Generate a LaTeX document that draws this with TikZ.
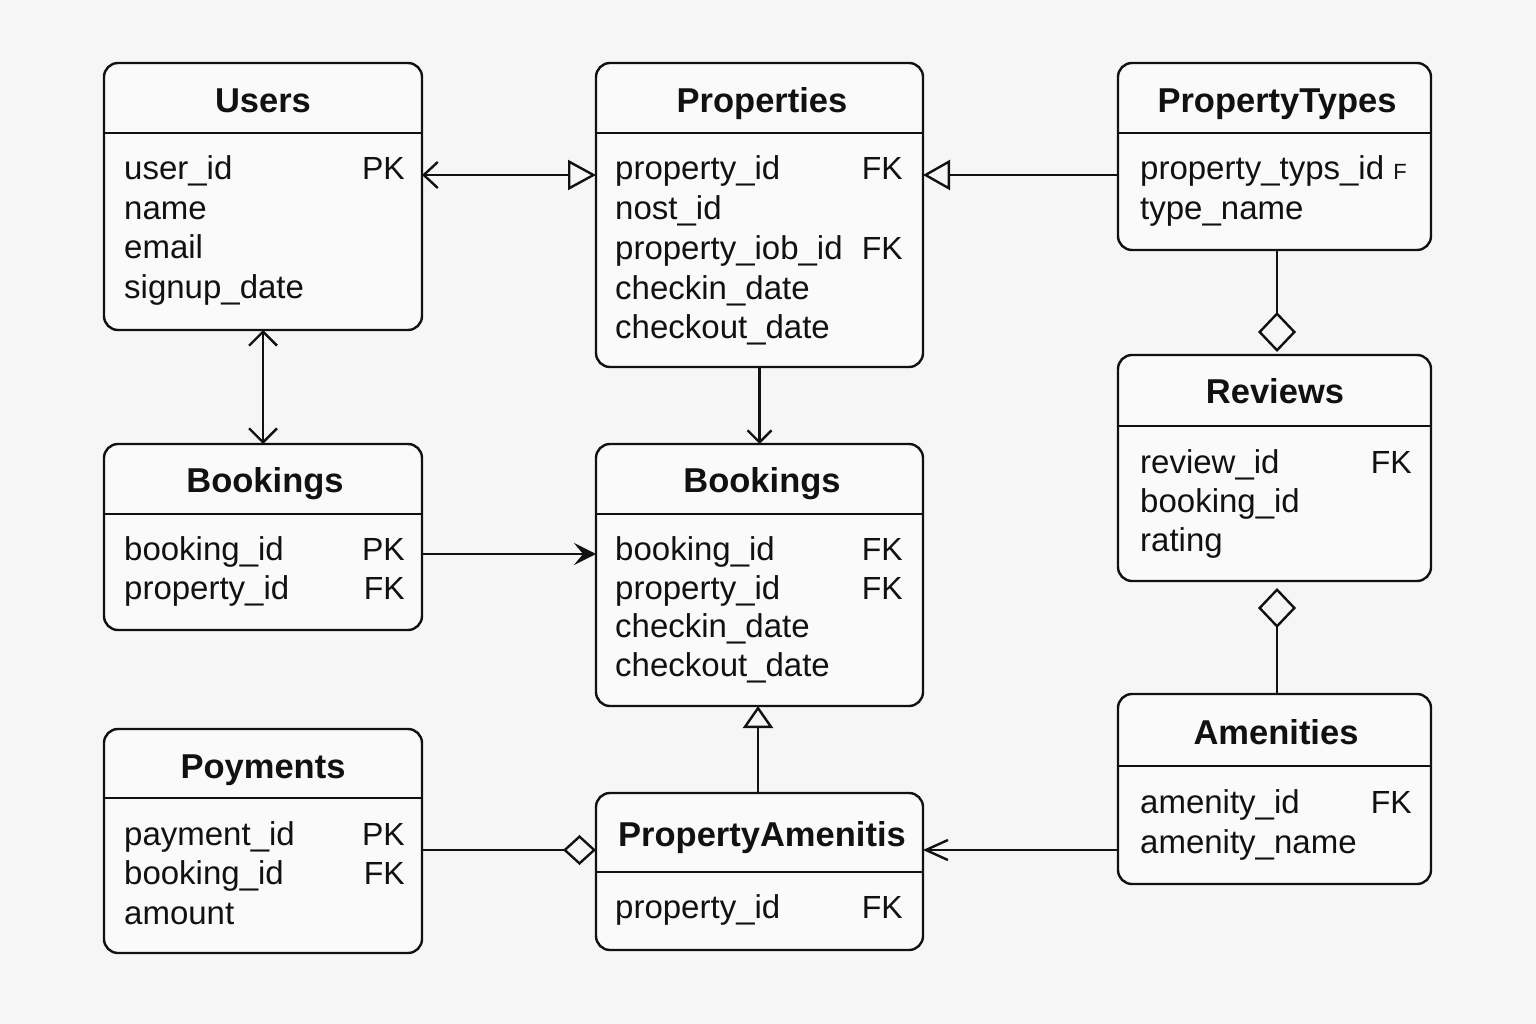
\documentclass[tikz,border=0pt]{standalone}
\usepackage{fontspec}
\setmainfont{Liberation Sans}
\usetikzlibrary{arrows.meta}
\definecolor{bg}{HTML}{F6F6F6}
\definecolor{boxbg}{HTML}{FAFAFA}
\definecolor{ink}{HTML}{111111}
\tikzset{
 box/.style={draw=ink, line width=2.4pt, rounded corners=14pt, fill=boxbg, anchor=north west, inner sep=0pt, outer sep=0pt},
 hdr/.style={draw=ink, line width=2.4pt},
 ttl/.style={font=\fontsize{34.5}{34.5}\selectfont\bfseries, text=ink, inner sep=0pt, anchor=base},
 fld/.style={font=\fontsize{33}{33}\selectfont, text=ink, anchor=base west, inner sep=0pt},
 key/.style={font=\fontsize{32}{32}\selectfont, text=ink, anchor=base east, inner sep=0pt},
 conn/.style={draw=ink, line width=2.4pt},
}
\begin{document}
\begin{tikzpicture}[x=1pt,y=-1pt]
\fill[bg] (0,0) rectangle (1536,1024);
\useasboundingbox (0,0) rectangle (1536,1024);

% boxes
\node[box, minimum width=318pt, minimum height=267pt] (users) at (104,63) {};
\node[box, minimum width=327pt, minimum height=304pt] (props) at (596,63) {};
\node[box, minimum width=313pt, minimum height=187pt] (ptypes) at (1118,63) {};
\node[box, minimum width=313pt, minimum height=226pt] (reviews) at (1118,355) {};
\node[box, minimum width=318pt, minimum height=186pt] (bl) at (104,444) {};
\node[box, minimum width=327pt, minimum height=262pt] (bc) at (596,444) {};
\node[box, minimum width=313pt, minimum height=190pt] (amen) at (1118,694) {};
\node[box, minimum width=318pt, minimum height=224pt] (pay) at (104,729) {};
\node[box, minimum width=327pt, minimum height=157pt] (pa) at (596,793) {};

% header lines
\draw[hdr] (users.west |- 0,133) -- (users.east |- 0,133);
\draw[hdr] (props.west |- 0,133) -- (props.east |- 0,133);
\draw[hdr] (ptypes.west |- 0,133) -- (ptypes.east |- 0,133);
\draw[hdr] (reviews.west |- 0,426) -- (reviews.east |- 0,426);
\draw[hdr] (bl.west |- 0,514) -- (bl.east |- 0,514);
\draw[hdr] (bc.west |- 0,514) -- (bc.east |- 0,514);
\draw[hdr] (amen.west |- 0,766) -- (amen.east |- 0,766);
\draw[hdr] (pay.west |- 0,798) -- (pay.east |- 0,798);
\draw[hdr] (pa.west |- 0,872) -- (pa.east |- 0,872);

% titles
\node[ttl] (t-users) at (263,113) {Users};
\node[ttl] (t-props) at (762,113) {Properties};
\node[ttl] (t-ptypes) at (1277,113) {PropertyTypes};
\node[ttl] (t-reviews) at (1275,403) {Reviews};
\node[ttl] (t-bl) at (265,492) {Bookings};
\node[ttl] (t-bc) at (762,492) {Bookings};
\node[ttl] (t-amen) at (1276,744) {Amenities};
\node[ttl] (t-pay) at (263,778) {Poyments};
\node[ttl] (t-pa) at (762,846) {PropertyAmenitis};

% Users
\node[fld] (u1) at (124,180) {user\_id};
\node[fld] (u2) at (124,219.5) {name};
\node[fld] (u3) at (124,259) {email};
\node[fld] (u4) at (124,298.5) {signup\_date};
\node[key] (uk1) at (405,180) {PK};

% Properties
\node[fld] (p1) at (615,180) {property\_id};
\node[fld] (p2) at (615,220) {nost\_id};
\node[fld] (p3) at (615,259.5) {property\_iob\_id};
\node[fld] (p4) at (615,299) {checkin\_date};
\node[fld] (p5) at (615,338) {checkout\_date};
\node[key] (pk1) at (903,180) {FK};
\node[key] (pk3) at (903,259.5) {FK};

% PropertyTypes
\node[fld] (pt1) at (1140,180) {property\_typs\_id};
\node[fld] (pt2) at (1140,220) {type\_name};
\node[key, font=\fontsize{22}{22}\selectfont] (ptk1) at (1407,180) {F};

% Reviews
\node[fld] (r1) at (1140,473) {review\_id};
\node[fld] (r2) at (1140,512) {booking\_id};
\node[fld] (r3) at (1140,551) {rating};
\node[key] (rk1) at (1412,473) {FK};

% Bookings left
\node[fld] (bl1) at (124,560) {booking\_id};
\node[fld] (bl2) at (124,599) {property\_id};
\node[key] (blk1) at (405,560) {PK};
\node[key] (blk2) at (405,599) {FK};

% Bookings center
\node[fld] (bc1) at (615,560) {booking\_id};
\node[fld] (bc2) at (615,599) {property\_id};
\node[fld] (bc3) at (615,637) {checkin\_date};
\node[fld] (bc4) at (615,676) {checkout\_date};
\node[key] (bck1) at (903,560) {FK};
\node[key] (bck2) at (903,599) {FK};

% Amenities
\node[fld] (a1) at (1140,813) {amenity\_id};
\node[fld] (a2) at (1140,853) {amenity\_name};
\node[key] (ak1) at (1412,813) {FK};

% Poyments
\node[fld] (y1) at (124,845) {payment\_id};
\node[fld] (y2) at (124,884) {booking\_id};
\node[fld] (y3) at (124,924) {amount};
\node[key] (yk1) at (405,845) {PK};
\node[key] (yk2) at (405,884) {FK};

% PropertyAmenitis
\node[fld] (pa1) at (615,918) {property\_id};
\node[key] (pak1) at (903,918) {FK};

% connectors
\draw[conn, {Straight Barb[length=14pt,width=26pt]}-{Triangle[open,length=28pt,width=30pt]}]
  (users.east |- 0,175) -- (props.west |- 0,175);
\draw[conn, -{Triangle[open,length=27pt,width=30pt]}]
  (ptypes.west |- 0,175) -- (props.east |- 0,175);
\draw[conn, {Straight Barb[length=14pt,width=28pt]}-{Straight Barb[length=14pt,width=28pt]}]
  (users.south) -- (bl.north);
\draw[conn, -{Straight Barb[length=12pt,width=24pt]}]
  (props.south) -- (bc.north);
\draw[conn, -{Stealth[length=22pt,width=22pt,inset=9pt]}]
  (bl.east |- 0,554) -- (bc.west |- 0,554);
\draw[conn, shorten >=3pt, -{Diamond[open,length=40pt,width=38pt]}]
  (ptypes.south -| 1277,0) -- (reviews.north -| 1277,0);
\draw[conn, shorten <=7pt, {Diamond[open,length=40pt,width=38pt]}-]
  (reviews.south -| 1277,0) -- (amen.north -| 1277,0);
\draw[conn, -{Triangle[open,length=22pt,width=30pt]}]
  (pa.north -| 758,0) -- (bc.south -| 758,0);
\draw[conn, -{Straight Barb[length=22pt,width=20pt]}]
  (amen.west |- 0,850) -- (pa.east |- 0,850);
\draw[conn, -{Diamond[open,length=33pt,width=30pt]}]
  (pay.east |- 0,850) -- (pa.west |- 0,850);
\end{tikzpicture}
\end{document}
